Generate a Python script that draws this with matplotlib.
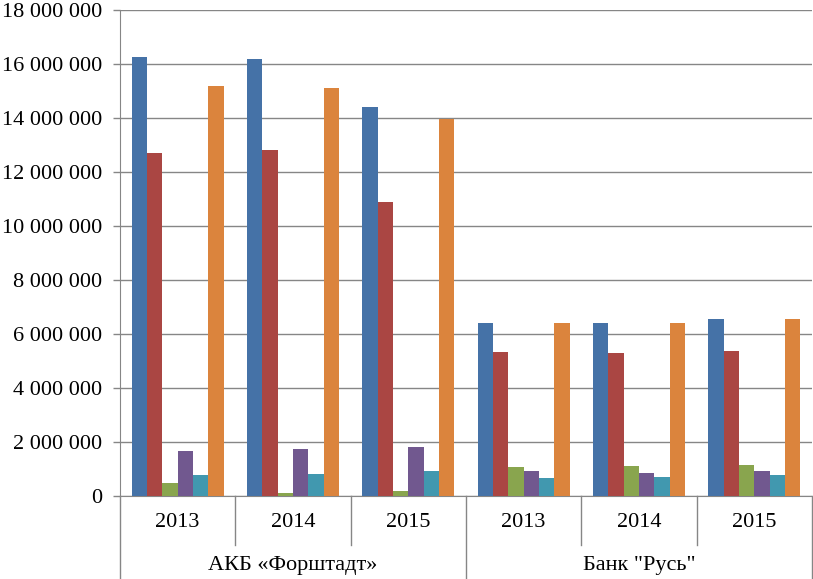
import matplotlib
matplotlib.use("Agg")
import matplotlib.pyplot as plt
import matplotlib.ticker as mticker
import numpy as np

plt.rcParams["font.family"] = ["Liberation Serif", "DejaVu Serif"]

BANKS = ["АКБ «Форштадт»", "Банк \"Русь\""]
YEARS = ["2013", "2014", "2015", "2013", "2014", "2015"]

# six indicators per bank/year, values in roubles
SERIES_1 = [16_250_000, 16_200_000, 14_400_000, 6_400_000, 6_410_000, 6_540_000]
SERIES_2 = [12_720_000, 12_830_000, 10_880_000, 5_330_000, 5_310_000, 5_380_000]
SERIES_3 = [470_000, 100_000, 170_000, 1_060_000, 1_110_000, 1_160_000]
SERIES_4 = [1_660_000, 1_730_000, 1_800_000, 910_000, 850_000, 910_000]
SERIES_5 = [790_000, 810_000, 940_000, 650_000, 720_000, 790_000]
SERIES_6 = [15_170_000, 15_120_000, 13_960_000, 6_400_000, 6_410_000, 6_540_000]

SERIES = [SERIES_1, SERIES_2, SERIES_3, SERIES_4, SERIES_5, SERIES_6]
COLORS = ["#4572A7", "#AA4643", "#89A54E", "#71588F", "#4198AF", "#DB843D"]
GRID = "#868686"


def fmt_thousands(v, pos):
    return f"{v:,.0f}".replace(",", " ")


def main() -> None:
    fig = plt.figure(figsize=(8.13, 5.79), dpi=100)
    ax = fig.add_axes([120 / 813, 83 / 579, 692 / 813, 486 / 579])

    x = np.arange(len(YEARS))
    n = len(SERIES)
    width = 1 / (n + 1.5)
    for i, (vals, color) in enumerate(zip(SERIES, COLORS)):
        ax.bar(x + (i - (n - 1) / 2) * width, vals, width=width, color=color, zorder=3)

    ax.set_xlim(-0.5, len(YEARS) - 0.5)
    ax.set_ylim(0, 18_000_000)
    ax.yaxis.set_major_locator(mticker.MultipleLocator(2_000_000))
    ax.yaxis.set_major_formatter(mticker.FuncFormatter(fmt_thousands))
    ax.grid(axis="y", color=GRID, linewidth=1.0, zorder=0)
    ax.tick_params(axis="y", direction="out", length=5, width=1, color=GRID,
                   labelsize=16, pad=8)
    ax.set_xticks([])

    for side in ["top", "right"]:
        ax.spines[side].set_visible(False)
    ax.spines["left"].set_color(GRID)
    ax.spines["bottom"].set_color(GRID)

    # two-level category axis drawn by hand
    trans = ax.get_xaxis_transform()
    for k in range(len(YEARS) + 1):
        xb = k - 0.5
        bottom = -0.171 if k % 3 == 0 else -0.101
        ax.plot([xb, xb], [0, bottom], transform=trans, color=GRID,
                linewidth=1.0, clip_on=False)
    for xi, year in zip(x, YEARS):
        ax.text(xi, -0.054, year, transform=trans, ha="center", va="center",
                fontsize=16)
    for j, bank in enumerate(BANKS):
        ax.text(3 * j + 1, -0.142, bank, transform=trans, ha="center",
                va="center", fontsize=16)

    fig.savefig("out.png", dpi=100)
    plt.close(fig)


if __name__ == "__main__":
    main()
